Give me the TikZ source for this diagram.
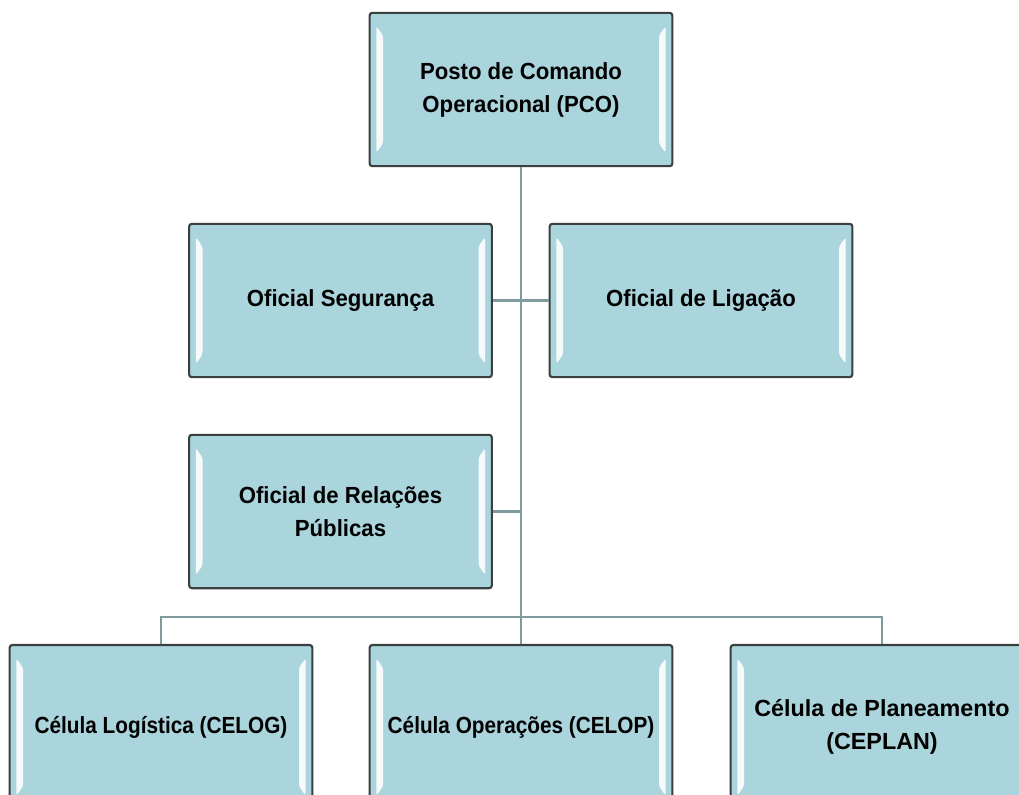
\documentclass[tikz,border=0pt]{standalone}
\usepackage{fontspec}
\usepackage{graphicx}
\setmainfont{Liberation Sans}
\definecolor{boxfill}{HTML}{ABD5DC}
\definecolor{boxline}{HTML}{3A3F40}
\definecolor{connline}{HTML}{7E9C9E}
\newcommand{\nrw}[1]{\scalebox{0.89}[1]{#1}}
\newcommand{\nrwup}[1]{\scalebox{0.95}[1]{#1}}
\tikzset{
  orgbox/.style={draw=boxline, line width=1.6pt, fill=boxfill, rounded corners=2pt,
    minimum width=227pt, minimum height=115pt, inner sep=2pt, align=center,
    font=\fontsize{17.5}{24.8}\selectfont\bfseries,
    path picture={
      \fill[white, opacity=0.9]
        ([xshift=5pt,yshift=-10pt]path picture bounding box.north west) --
        ([xshift=10pt,yshift=-17pt]path picture bounding box.north west) --
        ([xshift=10pt,yshift=17pt]path picture bounding box.south west) --
        ([xshift=5pt,yshift=10pt]path picture bounding box.south west) -- cycle;
      \fill[white, opacity=0.9]
        ([xshift=-5pt,yshift=-10pt]path picture bounding box.north east) --
        ([xshift=-10pt,yshift=-17pt]path picture bounding box.north east) --
        ([xshift=-10pt,yshift=17pt]path picture bounding box.south east) --
        ([xshift=-5pt,yshift=10pt]path picture bounding box.south east) -- cycle;
    }},
  tallbox/.style={orgbox, minimum height=123pt},
  conn/.style={draw=connline, line width=2pt}
}
\begin{document}
\begin{tikzpicture}[x=0.75pt,y=-0.75pt]
\useasboundingbox[fill=white] (0,0) rectangle (1019,794);
\node[orgbox] (pco) at (521,89.5) {\nrwup{Posto de Comando}\\\nrwup{Operacional (PCO)}};
\node[orgbox] (seg) at (340.5,300.5) {\nrwup{Oficial Segurança}};
\node[orgbox] (lig) at (701,300.5) {\nrwup{Oficial de Ligação}};
\node[orgbox] (rel) at (340.5,511.5) {\nrwup{Oficial de Relações}\\\nrwup{Públicas}};
\node[tallbox] (celog) at (161,727) {\nrw{Célula Logística (CELOG)}};
\node[tallbox] (celop) at (521,727) {\nrw{Célula Operações (CELOP)}};
\node[tallbox] (ceplan) at (882,727) {Célula de Planeamento\\(CEPLAN)};
\coordinate (bus) at (521,617);
\draw[conn] (pco.south) -- (celop.north);
\draw[conn] (seg.east) -- (lig.west);
\draw[conn] (rel.east) -- (rel.east -| pco.south);
\draw[conn] (celog.north) |- (bus) -| (ceplan.north);
\end{tikzpicture}
\end{document}
